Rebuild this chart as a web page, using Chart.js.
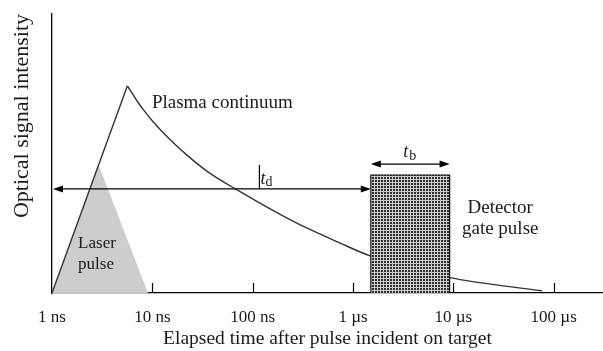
<!DOCTYPE html>
<html>
<head>
<meta charset="utf-8">
<script src="https://cdn.jsdelivr.net/npm/chart.js@4.4.1/dist/chart.umd.min.js"></script>
<style>
html,body{margin:0;padding:0;background:#fff}
#wrap{width:603px;height:351px}
</style>
</head>
<body>
<div id="wrap"><canvas id="grafica"></canvas></div>
<script>
// time in ns, signal in % of the axis height
var riseTime = [1, 5.63];
var riseSignal = [0, 74.2];
var decayTime = [5.63, 5.99, 6.99, 8.13, 10.23, 15.0, 22.0, 34.9, 74.9, 118.5, 187.6, 346, 744, 1481, 9290, 76300];
var decaySignal = [74.2, 72.8, 69.0, 65.7, 61.3, 55.0, 49.5, 43.7, 36.3, 32.2, 28.2, 23.3, 17.9, 13.3, 5.5, 0.8];
var laserTime = [1, 2.89, 9.06];
var laserSignal = [0, 46.2, 0];
var gateTime = [1505, 1505, 9185, 9185];
var gateSignal = [0, 42.3, 42.3, 0];
var tickValues = [1, 10, 100, 1000, 10000, 100000];
var tickLabels = ['1 ns', '10 ns', '100 ns', '1 \u00b5s', '10 \u00b5s', '100 \u00b5s'];
var delayTime = 116.7;    // where t_d is marked
var delayLevel = 37.3;    // height of the delay arrow
var widthLevel = 46.2;    // height of the t_b arrow

var serif = '"Liberation Serif", "DejaVu Serif", serif';
var ink = '#1a1a1a';

function toPoints(xs, ys){
    return xs.map((x, i) => ({x: x, y: ys[i]}));
}

// stippled fill for the gate box
function stipple(){
    var c = document.createElement('canvas');
    c.width = 3; c.height = 3;
    var g = c.getContext('2d');
    g.fillStyle = '#cfcfcf';
    g.fillRect(0, 0, 3, 3);
    g.fillStyle = '#2e2e2e';
    g.fillRect(0, 0, 2, 2);
    return g.createPattern(c, 'repeat');
}

function arrowHead(ctx, x, y, dir){
    ctx.beginPath();
    ctx.moveTo(x, y);
    ctx.lineTo(x - dir * 10, y - 3.5);
    ctx.lineTo(x - dir * 10, y + 3.5);
    ctx.closePath();
    ctx.fill();
}

var anotaciones = {
    id: 'anotaciones',
    afterDatasetsDraw(chart){
        var ctx = chart.ctx;
        var xs = chart.scales.x, ys = chart.scales.y;
        var bottom = chart.chartArea.bottom;
        ctx.save();
        ctx.strokeStyle = '#000';
        ctx.fillStyle = '#000';
        ctx.lineWidth = 1.2;

        // tick marks pointing into the plot
        tickValues.slice(1).forEach(v => {
            var px = Math.round(xs.getPixelForValue(v)) + 0.5;
            ctx.beginPath();
            ctx.moveTo(px, bottom);
            ctx.lineTo(px, bottom - 10);
            ctx.stroke();
        });

        // delay arrow from the axis to the gate
        var yd = ys.getPixelForValue(delayLevel);
        var x0 = xs.getPixelForValue(1) + 1, x1 = xs.getPixelForValue(gateTime[0]);
        ctx.beginPath();
        ctx.moveTo(x0 + 5, yd);
        ctx.lineTo(x1 - 5, yd);
        ctx.stroke();
        arrowHead(ctx, x0, yd, -1);
        arrowHead(ctx, x1, yd, 1);

        var xm = xs.getPixelForValue(delayTime);
        ctx.beginPath();
        ctx.moveTo(xm, yd);
        ctx.lineTo(xm, yd - 24);
        ctx.stroke();

        // gate width arrow
        var yb = ys.getPixelForValue(widthLevel);
        var b0 = xs.getPixelForValue(gateTime[1]), b1 = xs.getPixelForValue(gateTime[2]);
        ctx.beginPath();
        ctx.moveTo(b0 + 5, yb);
        ctx.lineTo(b1 - 5, yb);
        ctx.stroke();
        arrowHead(ctx, b0, yb, -1);
        arrowHead(ctx, b1, yb, 1);

        // texts
        ctx.fillStyle = ink;
        ctx.textBaseline = 'alphabetic';
        ctx.textAlign = 'left';
        ctx.font = '19px ' + serif;
        ctx.fillText('Plasma continuum', xs.getPixelForValue(9.9), ys.getPixelForValue(66.3));
        ctx.textAlign = 'center';
        ctx.fillText('Detector', xs.getPixelForValue(29300), ys.getPixelForValue(28.7));
        ctx.fillText('gate pulse', xs.getPixelForValue(29300), ys.getPixelForValue(21.0));
        ctx.textAlign = 'left';
        ctx.font = '17px ' + serif;
        ctx.fillText('Laser', xs.getPixelForValue(1.82), ys.getPixelForValue(16.1));
        ctx.fillText('pulse', xs.getPixelForValue(1.82), ys.getPixelForValue(8.6));

        ctx.font = 'italic 18px ' + serif;
        ctx.fillText('t', xm + 1, yd - 5);
        ctx.font = '14px ' + serif;
        ctx.fillText('d', xm + 6, yd - 3);

        var bc = (b0 + b1) / 2;
        ctx.font = 'italic 18px ' + serif;
        ctx.fillText('t', bc - 7, yb - 7);
        ctx.font = '14px ' + serif;
        ctx.fillText('b', bc - 1, yb - 4);
        ctx.restore();
    }
};

var ctx = document.getElementById('grafica').getContext('2d');
var grafica = new Chart(ctx, {
    type: 'line',
    data: {
        datasets: [{
            label: 'Detector gate pulse',
            data: toPoints(gateTime, gateSignal),
            backgroundColor: stipple(),
            borderColor: '#111',
            borderWidth: 1.2,
            fill: 'origin',
            pointRadius: 0,
            order: 1
        }, {
            label: 'Plasma continuum',
            data: toPoints(decayTime, decaySignal),
            borderColor: '#333',
            borderWidth: 1.4,
            fill: false,
            pointRadius: 0,
            cubicInterpolationMode: 'monotone',
            order: 2
        }, {
            label: 'Rise',
            data: toPoints(riseTime, riseSignal),
            borderColor: '#333',
            borderWidth: 1.4,
            fill: false,
            pointRadius: 0,
            order: 2
        }, {
            label: 'Laser pulse',
            data: toPoints(laserTime, laserSignal),
            backgroundColor: '#cdcdcd',
            borderWidth: 0,
            fill: 'origin',
            pointRadius: 0,
            order: 3
        }]
    },
    options: {
        responsive: true,
        maintainAspectRatio: false,
        animation: false,
        events: [],
        layout: { padding: { top: 14, right: 0, left: 0, bottom: 0 } },
        plugins: { legend: { display: false }, tooltip: { enabled: false } },
        scales: {
            x: {
                type: 'logarithmic',
                min: 1,
                max: 3.1e5,
                afterBuildTicks: s => { s.ticks = tickValues.map(v => ({value: v})); },
                afterFit: s => { s.height = 58; },
                ticks: {
                    callback: (v, i) => tickLabels[i],
                    autoSkip: false,
                    maxRotation: 0,
                    padding: 6,
                    color: ink,
                    font: { family: serif, size: 17 }
                },
                grid: { display: false },
                border: { display: true, color: '#000', width: 1.3 },
                title: {
                    display: true,
                    text: 'Elapsed time after pulse incident on target',
                    color: ink,
                    font: { family: serif, size: 19.5 },
                    padding: { top: 0, bottom: 0 }
                }
            },
            y: {
                min: 0,
                max: 100,
                afterFit: s => { s.width = 52; },
                ticks: { display: false },
                grid: { display: false },
                border: { display: true, color: '#000', width: 1.3 },
                title: {
                    display: true,
                    text: 'Optical signal intensity',
                    align: 'end',
                    color: ink,
                    font: { family: serif, size: 22 },
                    padding: { top: 9, bottom: 0 }
                }
            }
        }
    },
    plugins: [anotaciones]
});
</script>
</body>
</html>
